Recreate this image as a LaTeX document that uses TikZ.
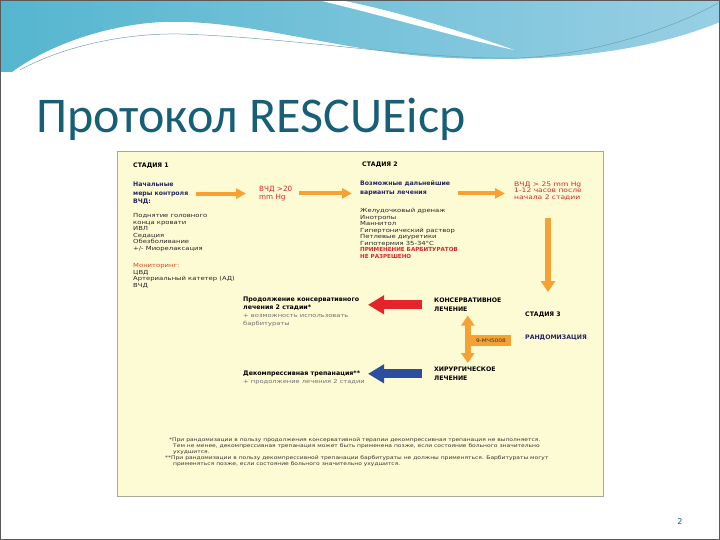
\documentclass[tikz,border=0pt]{standalone}
\usepackage{fontspec}
\setmainfont{DejaVu Sans}
\newfontfamily\widefont[FakeStretch=1.22]{DejaVu Sans}
\newfontfamily\plainfont{DejaVu Sans}
\newfontfamily\titlefont{Carlito}
\usetikzlibrary{positioning, arrows.meta}

\definecolor{boxyellow}{HTML}{FDFBD3}
\definecolor{boxline}{HTML}{A9A796}
\definecolor{arroworange}{HTML}{F5A133}
\definecolor{textred}{HTML}{D9252B}
\definecolor{monred}{HTML}{D9471F}
\definecolor{textnavy}{HTML}{25275F}
\definecolor{titleteal}{HTML}{175E77}
\definecolor{notegray}{HTML}{707070}
\definecolor{arrowred}{HTML}{E3242B}
\definecolor{arrowblue}{HTML}{2D4E9E}
\definecolor{waveleft}{HTML}{55B6CF}
\definecolor{waveright}{HTML}{98CFE4}

\tikzset{
  txt/.style={anchor=north west, inner sep=0pt, align=left, text=black!85,
    font=\widefont\fontsize{5.6}{6.5}\selectfont},
  head/.style={txt, text=black, font=\fontsize{6.2}{8.6}\selectfont\bfseries},
  bigred/.style={txt, text=textred, font=\fontsize{7.2}{8.6}\selectfont},
  graytxt/.style={txt, text=notegray},
  note/.style={txt, text=black!80, font=\widefont\fontsize{4.9}{6}\selectfont},
  orangearrow/.style={draw=arroworange, line width=4pt, -{Triangle[length=10pt, width=10pt]}},
  fatarrow/.style={line width=9pt, -{Triangle[length=16pt, width=18pt]}}
}

\begin{document}
\begin{tikzpicture}[x=1pt, y=-1pt]
    \useasboundingbox (0,0) rectangle (720,540);
    % top decoration
    \shade[left color=waveleft, right color=waveright] (0,0) -- (720,0) -- (720,22)
        .. controls (640,55) and (540,62) .. (450,58)
        .. controls (330,52) and (230,12) .. (140,24)
        .. controls (80,32) and (35,55) .. (12,72) -- (0,72) -- cycle;
    \fill[white] (318,0) .. controls (400,20) and (460,38) .. (514,50)
        .. controls (470,34) and (400,12) .. (340,0) -- cycle;
    \draw[titleteal!60, line width=0.5pt] (20,70) .. controls (60,48) and (120,33) .. (180,34)
        .. controls (300,38) and (420,60) .. (520,58) .. controls (600,54) and (680,25) .. (718,3);
    \draw[white, line width=0.6pt] (14,72) .. controls (70,40) and (130,28) .. (200,30);
    % slide border
    \draw[black!65, line width=1pt] (0.5,0.5) rectangle (719.5,539.5);

    % title
    \node[anchor=base west, inner sep=0pt, text=titleteal, font=\titlefont\fontsize{50}{50}\selectfont]
        (title) at (36,133) {Протокол RESCUEicp};
    \node[anchor=center, inner sep=0pt, text=titleteal, font=\fontsize{8}{8}\selectfont] (pagenum) at (680,522) {2};

    % yellow panel
    \draw[boxline, fill=boxyellow, line width=0.8pt] (117,151) rectangle (603,496);

    % stage 1
    \node[head] (stage1) at (133,163) {СТАДИЯ 1};
    \node[head, text=textnavy] (initial) at (133,182) {Начальные\\меры контроля\\ВЧД:};
    \node[txt] (steps1) at (133,213.5) {Поднятие головного\\конца кровати\\ИВЛ\\Седация\\Обезболивание\\+/- Миорелаксация};
    \node[txt] (monitor) at (133,263.5) {\textcolor{monred}{Мониторинг:}\\ЦВД\\Артериальный катетер (АД)\\ВЧД};
    \node[bigred] (icp20) at (259,185.5) {ВЧД >20\\mm Hg};

    % stage 2
    \node[head] (stage2) at (362,162) {СТАДИЯ 2};
    \node[head, text=textnavy] (options) at (360,181) {Возможные дальнейшие\\варианты лечения};
    \node[txt] (steps2) at (360,208.5) {Желудочковый дренаж\\Инотропы\\Маннитол\\Гипертонический раствор\\Петлевые диуретики\\Гипотермия 35-34°С\\
        \textcolor{textred}{\plainfont\bfseries ПРИМЕНЕНИЕ БАРБИТУРАТОВ}\\\textcolor{textred}{\plainfont\bfseries НЕ РАЗРЕШЕНО}};
    \node[bigred, font=\widefont\fontsize{6.2}{6.6}\selectfont] (icp25) at (514,181.5) {ВЧД > 25 mm Hg\\1-12 часов после\\начала 2 стадии};

    % stage 3
    \node[head] (stage3) at (525,312) {СТАДИЯ 3};
    \node[head, text=textnavy] (random) at (525,335) {РАНДОМИЗАЦИЯ};
    \node[head] (conserv) at (434,298) {КОНСЕРВАТИВНОЕ\\ЛЕЧЕНИЕ};
    \node[head] (surgery) at (434,367) {ХИРУРГИЧЕСКОЕ\\ЛЕЧЕНИЕ};
    \node[head, font=\fontsize{6.3}{8.2}\selectfont\bfseries] (contin) at (243,297) {Продолжение консервативного\\лечения 2 стадии*};
    \node[graytxt, font=\widefont\fontsize{5.5}{8}\selectfont] (barb) at (243,314) {+ возможность использовать\\барбитураты};
    \node[head, font=\fontsize{6.3}{8}\selectfont\bfseries] (decomp) at (243,371) {Декомпрессивная трепанация**};
    \node[graytxt, font=\widefont\fontsize{5.5}{8}\selectfont] (plus2) at (243,379) {+ продолжение лечения 2 стадии};
    \coordinate (tipcol) at (368,0);

    % arrows
    \draw[orangearrow, shorten <=8pt, shorten >=13pt] (initial.east) -- (initial.east -| icp20.west);
    \draw[orangearrow, shorten <=7pt, shorten >=8pt] (icp20.east) -- (icp20.east -| options.west);
    \draw[orangearrow, shorten <=8pt, shorten >=9pt] (options.east |- icp20.east) -- (icp20.east -| icp25.west);
    \draw[orangearrow, line width=6pt, -{Triangle[length=11pt, width=14pt]}, shorten <=17pt, shorten >=20pt]
        (icp25.south) -- (icp25.south |- stage3.north);
    \draw[fatarrow, draw=arrowred, shorten <=12pt] (conserv.west) -- (conserv.west -| tipcol);
    \draw[fatarrow, draw=arrowblue, shorten <=12pt] (surgery.west) -- (surgery.west -| tipcol);
    \draw[draw=arroworange, line width=6pt, {Triangle[length=10pt, width=13pt]}-{Triangle[length=10pt, width=13pt]},
        shorten <=4pt, shorten >=4pt] (conserv.south) -- (conserv.south |- surgery.north);
    \node[anchor=west, fill=arroworange, inner sep=0pt, minimum width=43pt, minimum height=11pt,
        font=\widefont\fontsize{4.8}{5}\selectfont, text=black!80] (code) at (conserv.south |- 0,340.5) {\hspace{3pt}9-МЧ5008};

    % footnotes
    \node[note] (notes) at (165,437.5) {\hspace{4pt}*При рандомизации в пользу продолжения консервативной терапии декомпрессивная трепанация не выполняется.\\
        \hspace{8pt}Тем не менее, декомпрессивная трепанация может быть применена позже, если состояние больного значительно\\
        \hspace{8pt}ухудшится.\\
        **При рандомизации в пользу декомпрессивной трепанации барбитураты не должны применяться. Барбитураты могут\\
        \hspace{8pt}применяться позже, если состояние больного значительно ухудшится.};
\end{tikzpicture}
\end{document}
